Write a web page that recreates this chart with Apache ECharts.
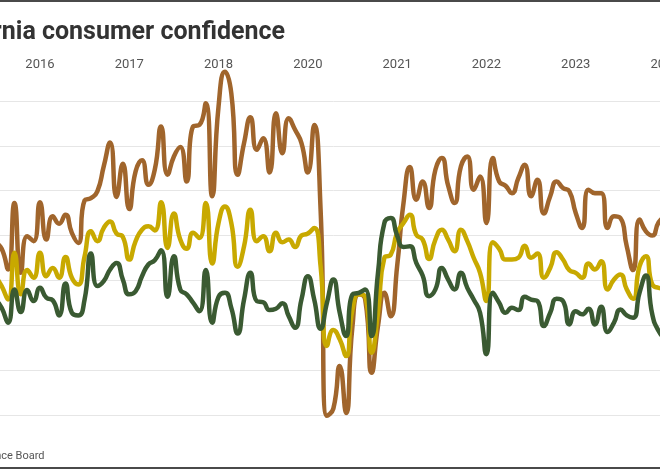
<!DOCTYPE html>
<html><head><meta charset="utf-8">
<script src="https://cdn.jsdelivr.net/npm/echarts@6/dist/echarts.min.js"></script>
<style>
html,body{margin:0;padding:0;width:660px;height:470px;overflow:hidden;background:#fff;position:relative}
#chart{position:absolute;left:-80px;top:0;width:840px;height:470px}
</style>
</head><body><div id="chart"></div>
<script>
const tickLabels = ['2016','2017','2018','2020','2021','2022','2023','2024'];
const tickIndex = [7,21,35,49,63,77,91,105];

const presentSituation = [96.7,94.1,84.9,114.5,83.4,99.7,97.5,114.8,98.2,108.6,
105.3,109.3,101.2,96.7,115.7,116.7,119.7,130.8,141.5,117.2,
132,111.8,128.6,133.5,122.6,129.3,148.6,127.1,135.2,139.4,
124.1,148.6,149.3,158.9,117.5,157.5,173,163.4,127.1,141.2,
152.7,138.2,143.4,128.1,154.5,136.7,152.3,147.1,141.2,128.1,
149.3,111.5,19.7,22.9,41.9,20.9,59.7,73.8,71.5,38.9,
59.7,74.5,64.1,86.3,114.5,130.5,116,124.1,112.3,129.3,
134.5,122.2,114.5,130.8,135.2,120.4,126.3,105.6,134.5,124.1,
122.2,118.9,125.6,131.5,117.5,124.9,109.8,117.5,124.1,121.2,
119.7,110.1,103.4,120.4,118.9,118.9,103.4,108.6,107.8,95.2,
84.6,107.1,101.9,100,105.9,108.6,110.1];

const confidenceIndex = [81.9,77.5,71.5,92.3,73.8,84.6,81.2,92.3,81.9,85.6,
81.2,90.5,81.2,78.2,90.8,101.9,97.5,103.4,106.3,100.9,
99.4,89.3,97.5,102.6,104.1,102.3,114.8,94.5,109.8,98.2,
94.1,101.2,98.9,114.5,87.5,105.6,113,105.6,86.1,95.2,
111.5,97.5,99.7,93,101.2,97,98.2,94.9,100,100.9,
103.4,86.3,50.8,57.9,53.8,46.3,67.1,73.8,72.7,47.8,
65.6,90.1,91.5,101.2,105.6,109.3,100.4,98.2,89.6,98.2,
102.6,98.2,93,102.6,97.5,90.1,83.4,70.8,97,94.1,
89.3,89.3,90.1,95.5,90.1,92,81.2,85.6,92.6,89.3,
84.6,83.4,81.2,87.5,84.9,88.6,76,80.4,82.6,76,
71.8,86.3,90.8,78.2,76.7,76.3,76];

const expectations = [71.5,67.8,61.2,76,65.9,75.7,70.8,76.7,72.3,71.2,
64.4,78.6,65.6,64.4,71.5,92,77.5,79.7,84.9,87.8,
80.4,73.8,75.2,81.9,87.1,89,93.5,72.7,90.8,76,
73.8,70.1,66.3,84.6,61.2,72.7,74.5,67.8,56.4,71.5,
83.4,70.8,70.3,66.8,67.4,69.8,64.1,58.9,71.5,81.9,
71.5,58.5,70.1,80.4,65.6,55.2,73.8,74.5,76,55.2,
83.4,105.6,107.8,100,94.9,95.2,87.8,82.2,73,76,
85.6,80.4,76,83.4,76.7,71.5,65.6,47.1,74.5,70.1,
65.6,67.8,66.8,72.7,71.5,70.8,59.7,65.6,71.8,70.8,
60.4,66.3,64.9,67.4,60.4,68.3,57,61.2,67.1,64.4,
63.4,74.5,82.2,64.9,57.5,54.5,53.8];

const categories = presentSituation.map((_, i) => String(i));

const chart = echarts.init(document.getElementById('chart'), null, {renderer: 'canvas'});
chart.setOption({
  animation: false,
  backgroundColor: '#fff',
  title: {
    text: 'California consumer confidence',
    right: 475, top: 20, padding: 0,
    textStyle: {fontFamily: 'Roboto', fontWeight: 'bold', fontSize: 25, color: '#333'}
  },
  graphic: [
    {type: 'rect', shape: {x: 0, y: 0, width: 840, height: 2}, style: {fill: '#4a4a4a'}, silent: true},
    {type: 'rect', shape: {x: 0, y: 467, width: 840, height: 2}, style: {fill: '#4a4a4a'}, silent: true},
    {type: 'text', x: 124.5, y: 456, style: {text: 'Source: The Conference Board', textAlign: 'right', textVerticalAlign: 'middle', fontFamily: 'Roboto', fontSize: 11, fill: '#555'}}
  ],
  grid: {left: 75.3, top: 56, width: 676.1, height: 404, containLabel: false},
  xAxis: {
    type: 'category', data: categories, boundaryGap: false, position: 'top',
    axisLine: {show: false}, axisTick: {show: false}, splitLine: {show: false},
    axisLabel: {
      interval: (idx) => tickIndex.includes(idx),
      formatter: (val, idx) => { const k = tickIndex.indexOf(idx); return k >= 0 ? tickLabels[k] : ''; },
      margin: -15, fontFamily: 'Roboto', fontSize: 13, color: '#555'
    }
  },
  yAxis: {
    type: 'value', min: 0, max: 180, interval: 20,
    axisLine: {show: false}, axisTick: {show: false}, axisLabel: {show: false},
    splitLine: {show: true, showMinLine: false, showMaxLine: false, lineStyle: {color: '#e6e6e6', width: 1}}
  },
  series: [
    {name: 'Present situation', type: 'line', data: presentSituation, smooth: 0.55, symbol: 'none', lineStyle: {width: 4.5, color: '#a0652c'}, itemStyle: {color: '#a0652c'}},
    {name: 'Consumer confidence index', type: 'line', data: confidenceIndex, smooth: 0.55, symbol: 'none', lineStyle: {width: 4.5, color: '#c8a900'}, itemStyle: {color: '#c8a900'}},
    {name: 'Expectations', type: 'line', data: expectations, smooth: 0.55, symbol: 'none', lineStyle: {width: 4.5, color: '#3a5a32'}, itemStyle: {color: '#3a5a32'}}
  ]
});
</script>
</body></html>
